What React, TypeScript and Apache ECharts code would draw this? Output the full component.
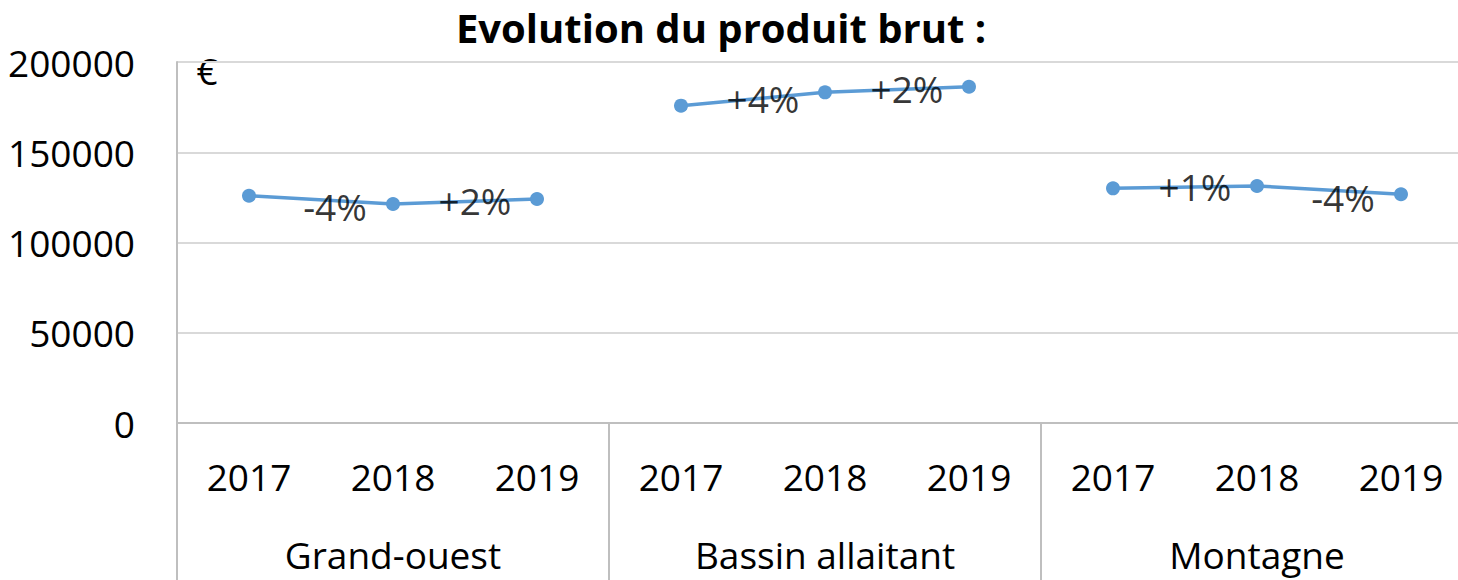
import React, { useEffect, useRef } from "react";
import * as echarts from "echarts";

const years = ["2017", "2018", "2019"];
const groups = ["Grand-ouest", "Bassin allaitant", "Montagne"];
const grandOuest = [125900, 121300, 124100];
const bassinAllaitant = [175800, 183200, 186300];
const montagne = [130000, 131300, 126700];
const changeLabels = [
  ["-4%", "+2%"],
  ["+4%", "+2%"],
  ["+1%", "-4%"],
];
const yTicks = [0, 50000, 100000, 150000, 200000];

const FONT = "'Open Sans', 'Noto Sans', sans-serif";
const LINE_COLOR = "#5B9BD5";
const AXIS_COLOR = "#BFBFBF";
const GRID_COLOR = "#D9D9D9";

export default function App() {
  const ref = useRef<HTMLDivElement>(null);

  useEffect(() => {
    if (!ref.current) return;
    const chart = echarts.init(ref.current, null, { renderer: "svg" });

    const allSeries = [grandOuest, bassinAllaitant, montagne];
    const categories: string[] = [];
    groups.forEach(() => years.forEach((y) => categories.push(y)));

    const lineSeries = allSeries.map((vals, g) => {
      const data: (number | null)[] = new Array(groups.length * years.length).fill(null);
      vals.forEach((v, i) => {
        data[g * years.length + i] = v;
      });
      return {
        type: "line",
        name: groups[g],
        xAxisIndex: 0,
        yAxisIndex: 0,
        data,
        symbol: "circle",
        symbolSize: 14,
        connectNulls: false,
        itemStyle: { color: LINE_COLOR },
        lineStyle: { color: LINE_COLOR, width: 3.5 },
        silent: true,
        z: 2,
      };
    });

    const labelData: any[] = [];
    allSeries.forEach((vals, g) => {
      changeLabels[g].forEach((txt, k) => {
        const neg = txt.startsWith("-");
        labelData.push({
          name: txt,
          value: [g * years.length + k + 1, (vals[k] + vals[k + 1]) / 2],
          label: { offset: neg ? [14, 7] : [10, -1] },
        });
      });
    });

    const option: any = {
      animation: false,
      grid: { left: 177, top: 62, width: 1296, height: 361, containLabel: false },
      graphic: [
        {
          type: "text",
          x: 721,
          y: 27,
          style: {
            text: "Evolution du produit brut :",
            font: `bold 40px ${FONT}`,
            fill: "#000",
            textAlign: "center",
            textVerticalAlign: "middle",
          },
        },
        {
          type: "text",
          x: 207,
          y: 70,
          style: {
            text: "€",
            font: `37px ${FONT}`,
            fill: "#000",
            textAlign: "center",
            textVerticalAlign: "middle",
          },
        },
      ],
      xAxis: [
        {
          type: "category",
          data: categories,
          position: "bottom",
          axisLine: { show: true, lineStyle: { color: AXIS_COLOR, width: 2 } },
          axisTick: { show: false },
          axisLabel: { color: "#000", fontSize: 37, fontFamily: FONT, margin: 35, interval: 0 },
          splitLine: { show: false },
        },
        {
          type: "category",
          data: groups,
          position: "bottom",
          axisLine: { show: false },
          axisTick: { show: true, length: 160, lineStyle: { color: AXIS_COLOR, width: 2 } },
          axisLabel: {
            color: "#000",
            fontSize: 37,
            lineHeight: 30,
            fontFamily: FONT,
            margin: 116,
            interval: 0,
          },
          splitLine: { show: false },
        },
        {
          type: "value",
          min: 0,
          max: groups.length * years.length,
          show: false,
        },
      ],
      yAxis: {
        type: "value",
        min: 0,
        max: 200000,
        interval: 50000,
        axisLine: { show: true, lineStyle: { color: AXIS_COLOR, width: 2 } },
        axisTick: { show: false },
        axisLabel: {
          color: "#000",
          fontSize: 37,
          fontFamily: FONT,
          margin: 42,
          formatter: (v: number) => (yTicks.includes(v) ? String(v) : ""),
        },
        splitLine: { show: true, lineStyle: { color: GRID_COLOR, width: 2 } },
      },
      series: [
        ...lineSeries,
        {
          type: "scatter",
          xAxisIndex: 2,
          yAxisIndex: 0,
          data: labelData,
          symbolSize: 0,
          silent: true,
          z: 5,
          label: {
            show: true,
            position: "inside",
            formatter: "{b}",
            color: "#000",
            fontSize: 37,
            fontFamily: FONT,
          },
        },
      ],
    };

    chart.setOption(option);
    return () => chart.dispose();
  }, []);

  return (
    <div
      style={{
        position: "absolute",
        left: 0,
        top: 0,
        width: 1458,
        height: 580,
        overflow: "hidden",
        background: "#fff",
      }}
    >
      <div ref={ref} style={{ width: 1480, height: 580 }} />
    </div>
  );
}
